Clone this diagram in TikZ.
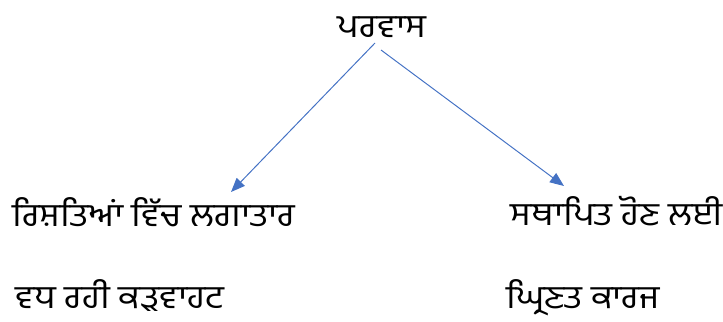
\documentclass[tikz,border=0pt]{standalone}
\usepackage{fontspec}
\usepackage{tikz}
\usetikzlibrary{arrows.meta}
\newfontfamily\gurmukhi[Script=Gurmukhi,FakeStretch=1.12]{Hind Jalandhar}
\definecolor{arrowblue}{HTML}{4472C4}

\begin{document}
\begin{tikzpicture} %Parvas
      [
      word/.style={inner sep=0pt, text depth=2pt, anchor=base west, font=\gurmukhi\fontsize{23}{27}\selectfont},
      arr/.style={draw=arrowblue, line width=0.7pt, -{Triangle[length=10pt,width=8pt]}}
      ]
      \useasboundingbox (0,0) rectangle (18.075,-8.025);
      \node[word, anchor=base] (top) at (9.55,-0.925) {ਪਰਵਾਸ};
      \node[word] (l1) at (0.3,-5.65) {ਰਿਸ਼ਤਿਆਂ ਵਿੱਚ ਲਗਾਤਾਰ};
      \node[word] (l2) at (0.375,-7.72) {ਵਧ ਰਹੀ ਕੜਵਾਹਟ};
      \node[word] (r1) at (12.76,-5.625) {ਸਥਾਪਿਤ ਹੋਣ ਲਈ};
      \node[word] (r2) at (12.65,-7.72) {ਘ੍ਰਿਣਤ ਕਾਰਜ};
      \coordinate (ls) at (9.375,-1.075);
      \coordinate (le) at (5.775,-4.8);
      \coordinate (rs) at (9.525,-1.25);
      \coordinate (re) at (14.1,-4.65);
      \draw[arr] (ls) -- (le);
      \draw[arr] (rs) -- (re);
\end{tikzpicture}
\end{document}
